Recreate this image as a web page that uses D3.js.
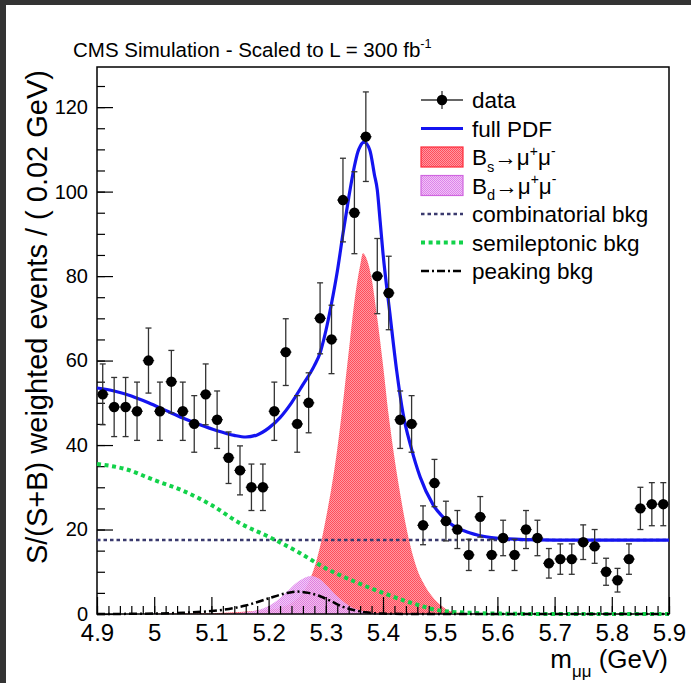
<!DOCTYPE html>
<html>
<head>
<meta charset="utf-8">
<script src="https://cdn.jsdelivr.net/npm/d3@7"></script>
<style>
  html, body { margin: 0; padding: 0; background: #fff; }
  svg { display: block; }
</style>
</head>
<body>
<script>
// ---------------- data ----------------
const massX = [4.91,4.93,4.95,4.97,4.99,5.01,5.03,5.05,5.07,5.09,5.11,5.13,5.15,5.17,5.19,5.21,5.23,5.25,5.27,5.29,
               5.31,5.33,5.35,5.37,5.39,5.41,5.43,5.45,5.47,5.49,5.51,5.53,5.55,5.57,5.59,5.61,5.63,5.65,5.67,5.69,
               5.71,5.73,5.75,5.77,5.79,5.81,5.83,5.85,5.87,5.89];
const counts = [52,49,49,48,60,48,55,48,45,52,46,37,34,30,30,48,62,45,50,70,
                65,98,95,113,80,76,46,45,21,31,22,20,14,23,14,18,14,20,18,12,
                13,13,17,16,10,8,13,25,26,26];
const errors = [7.2,7.0,7.0,6.9,7.7,6.9,7.4,6.9,6.7,7.2,6.8,6.1,5.8,5.5,5.5,6.9,7.9,6.7,7.1,8.4,
                8.1,9.9,9.7,10.6,8.9,8.7,6.8,6.7,4.6,5.6,4.7,4.5,3.7,4.8,3.7,4.2,3.7,4.5,4.2,3.5,
                3.6,3.6,4.1,4.0,3.2,2.8,3.6,5.0,5.1,5.1];
const binHalfWidth = 0.01;

const pdfX = [4.90,4.93,4.96,4.99,5.02,5.05,5.08,5.11,5.14,5.16,5.18,5.20,5.22,5.24,5.26,5.28,5.29,5.30,5.31,5.32,
              5.33,5.34,5.35,5.356,5.36,5.367,5.377,5.385,5.39,5.395,5.40,5.412,5.424,5.435,5.449,5.465,5.487,5.517,5.547,5.575,
              5.605,5.65,5.70,5.90];
const pdfY = [53.5,52.8,51.6,50.0,48.2,46.4,44.8,43.4,42.3,41.9,42.4,44.0,46.5,50.0,54.3,58.8,61.8,67.0,73.5,81.0,
              90.0,98.5,106.0,109.4,110.7,111.7,109.8,104.0,100.4,93.0,85.4,71.2,57.5,47.5,39.5,32.4,26.0,21.5,19.4,18.4,
              17.9,17.6,17.5,17.5];

const bsX = [5.00,5.10,5.12,5.14,5.16,5.18,5.20,5.22,5.24,5.25,5.26,5.27,5.28,5.29,5.30,5.31,5.32,5.33,5.34,5.35,
             5.36,5.365,5.37,5.38,5.39,5.40,5.41,5.42,5.43,5.44,5.45,5.46,5.47,5.48,5.49,5.50,5.51,5.52,5.54,5.56];
const bsY = [0.1,0.2,0.3,0.4,0.6,0.8,1.0,1.5,2.6,3.6,5.0,7.5,11,16,22.5,30,39,50,62,74,
             82.5,85.4,84.5,79.5,70,59,47,37,28.5,21,15,10.5,7.5,5.2,3.5,2.2,1.2,0.6,0.2,0];

const bdX = [5.12,5.14,5.17,5.19,5.21,5.23,5.25,5.265,5.275,5.29,5.30,5.32,5.34,5.36,5.38,5.41];
const bdY = [0,0.2,0.6,1.3,2.7,5.0,7.5,8.7,9.0,8.2,7.0,4.2,2.0,0.8,0.3,0];

const combX = [4.90,5.90];
const combY = [17.5,17.5];

const slX = [4.90,4.95,5.00,5.05,5.10,5.15,5.20,5.25,5.30,5.35,5.40,5.45,5.50,5.55,5.60,5.70,5.90];
const slY = [35.5,34.3,31.7,29.2,25.8,21.5,18.3,14.8,10.8,7.7,5.0,2.6,0.8,0.3,0.1,0,0];

const pkX = [4.90,5.00,5.05,5.10,5.12,5.16,5.20,5.23,5.25,5.27,5.29,5.31,5.33,5.35,5.37,5.40,5.45,5.90];
const pkY = [0,0.1,0.3,0.7,1.0,2.0,3.7,4.9,5.3,5.0,4.2,3.0,1.7,0.9,0.4,0.1,0,0];

const xTickValues = [4.9,5.0,5.1,5.2,5.3,5.4,5.5,5.6,5.7,5.8,5.9];
const xTickLabels = ["4.9","5","5.1","5.2","5.3","5.4","5.5","5.6","5.7","5.8","5.9"];
const yTickValues = [0,20,40,60,80,100,120];
const yTickLabels = ["0","20","40","60","80","100","120"];

const titleText = "CMS Simulation - Scaled to L = 300 fb^{-1}";
const yTitleText = "S/(S+B) weighted events / ( 0.02 GeV)";
const xTitleText = "m_{μμ} (GeV)";
const legendLabels = ["data","full PDF","B_{s}→μ^{+}μ^{-}","B_{d}→μ^{+}μ^{-}","combinatorial bkg","semileptonic bkg","peaking bkg"];

// ---------------- layout ----------------
const W = 691, H = 683;
const L = 97, R = 669, T = 67, B = 614;
const FONT = "'Liberation Sans', Arial, Helvetica, sans-serif";

const svg = d3.select("body").append("svg")
  .attr("width", W).attr("height", H)
  .attr("font-family", FONT);

svg.append("rect").attr("width", W).attr("height", H).attr("fill", "#fff");
// dark screenshot border
svg.append("rect").attr("x",0).attr("y",0).attr("width",W).attr("height",5).attr("fill","#333");
svg.append("rect").attr("x",0).attr("y",0).attr("width",6).attr("height",H).attr("fill","#333");

const x = d3.scaleLinear().domain([4.9, 5.9]).range([L, R]);
const y = d3.scaleLinear().domain([0, 129.5]).range([B, T]);

// patterns
const defs = svg.append("defs");
function checker(id, bg, fg) {
  const p = defs.append("pattern").attr("id", id).attr("patternUnits","userSpaceOnUse")
    .attr("width",2).attr("height",2);
  p.append("rect").attr("width",2).attr("height",2).attr("fill",bg);
  p.append("rect").attr("x",0).attr("y",0).attr("width",1).attr("height",1).attr("fill",fg);
  p.append("rect").attr("x",1).attr("y",1).attr("width",1).attr("height",1).attr("fill",fg);
}
checker("redPat", "#ff98a2", "#ff4c5c");
checker("violetPat", "#f2c2f7", "#dc84ea");

const zip = (xs, ys) => xs.map((v,i)=>[v, ys[i]]);

// fills
const area = d3.area().x(d=>x(d[0])).y0(y(0)).y1(d=>y(d[1])).curve(d3.curveMonotoneX);
svg.append("path").datum(zip(bsX,bsY)).attr("d", area).attr("fill","url(#redPat)");
svg.append("path").datum(zip(bdX,bdY)).attr("d", area).attr("fill","url(#violetPat)").attr("fill-opacity",0.9);

// axes
const gy = svg.append("g").attr("transform",`translate(${L},0)`);
gy.call(d3.axisLeft(y).tickValues(d3.range(0,126,5)).tickSize(-8).tickFormat(""));
gy.append("g").call(d3.axisLeft(y).tickValues(yTickValues).tickSize(-16).tickPadding(9)
   .tickFormat((d,i)=>yTickLabels[i]));
gy.selectAll(".domain").remove();
gy.selectAll("line").attr("stroke","#000").attr("stroke-width",1.2);
gy.selectAll("text").attr("font-size",20).attr("font-family",FONT).attr("fill","#000");

const minorX = d3.range(0,51).map(i=>4.9+i*0.02);
const gx = svg.append("g").attr("transform",`translate(0,${B})`);
gx.call(d3.axisBottom(x).tickValues(minorX).tickSize(-8).tickFormat(""));
gx.append("g").call(d3.axisBottom(x).tickValues(xTickValues).tickSize(-17).tickPadding(10)
   .tickFormat((d,i)=>xTickLabels[i]));
gx.selectAll(".domain").remove();
gx.selectAll("line").attr("stroke","#000").attr("stroke-width",1.2);
gx.selectAll("text").attr("font-size",24).attr("font-family",FONT).attr("fill","#000");

// frame
svg.append("rect").attr("x",L).attr("y",T).attr("width",R-L).attr("height",B-T)
  .attr("fill","none").attr("stroke","#000").attr("stroke-width",1.5);

// curves
const line = d3.line().x(d=>x(d[0])).y(d=>y(d[1])).curve(d3.curveMonotoneX);
svg.append("path").datum(zip(combX,combY)).attr("d",line).attr("fill","none")
  .attr("stroke","#3a3a6e").attr("stroke-width",2.5).attr("stroke-dasharray","3.5,3");
svg.append("path").datum(zip(slX,slY)).attr("d",line).attr("fill","none")
  .attr("stroke","#12d24a").attr("stroke-width",4).attr("stroke-dasharray","4,3.6");
svg.append("path").datum(zip(pkX,pkY)).attr("d",line).attr("fill","none")
  .attr("stroke","#000").attr("stroke-width",2.5).attr("stroke-dasharray","8,3,2,3");
svg.append("path").datum(zip(pdfX,pdfY)).attr("d",line).attr("fill","none")
  .attr("stroke","#1414f0").attr("stroke-width",3.2);

// data
const gd = svg.append("g");
const pts = massX.map((m,i)=>({m, v:counts[i], e:errors[i]}));
const eb = gd.selectAll("g.pt").data(pts).join("g").attr("class","pt");
eb.append("line").attr("x1",d=>x(d.m)).attr("x2",d=>x(d.m))
  .attr("y1",d=>y(d.v-d.e)).attr("y2",d=>y(d.v+d.e)).attr("stroke","#333").attr("stroke-width",1.3);
eb.append("line").attr("x1",d=>x(d.m)-3).attr("x2",d=>x(d.m)+3)
  .attr("y1",d=>y(d.v-d.e)).attr("y2",d=>y(d.v-d.e)).attr("stroke","#333").attr("stroke-width",1.3);
eb.append("line").attr("x1",d=>x(d.m)-3).attr("x2",d=>x(d.m)+3)
  .attr("y1",d=>y(d.v+d.e)).attr("y2",d=>y(d.v+d.e)).attr("stroke","#333").attr("stroke-width",1.3);
eb.append("line").attr("x1",d=>x(d.m-binHalfWidth)).attr("x2",d=>x(d.m+binHalfWidth))
  .attr("y1",d=>y(d.v)).attr("y2",d=>y(d.v)).attr("stroke","#333").attr("stroke-width",1.3);
eb.append("circle").attr("cx",d=>x(d.m)).attr("cy",d=>y(d.v)).attr("r",5.2).attr("fill","#000");

// rich text helper
function rich(sel, str, fs, subShift=0.3, supShift=0.42) {
  const parts = str.split(/(_\{[^}]*\}|\^\{[^}]*\})/).filter(s=>s.length);
  let shift = 0;
  parts.forEach(p=>{
    let target = 0, content = p, size = fs;
    if (p.startsWith("_{")) { target = subShift*fs; content = p.slice(2,-1); size = 0.65*fs; }
    else if (p.startsWith("^{")) { target = -supShift*fs; content = p.slice(2,-1); size = 0.62*fs; }
    sel.append("tspan").attr("dy", target-shift).attr("font-size", size).text(content);
    shift = target;
  });
}

// title
rich(svg.append("text").attr("x",73).attr("y",57).attr("font-size",20.5).attr("fill","#000"), titleText, 20.5);

// y title
svg.append("text").attr("transform","translate(47,70) rotate(-90)").attr("text-anchor","end")
  .attr("font-size",29).attr("fill","#000").text(yTitleText);

// x title
rich(svg.append("text").attr("x",668).attr("y",668).attr("text-anchor","end")
  .attr("font-size",26).attr("fill","#000"), xTitleText, 26, 0.35);

// legend
const legY = [100,128.5,157,185.5,214,242.5,271];
const lx0 = 421, lx1 = 463, ltx = 472;
const lg = svg.append("g");
legendLabels.forEach((lab,i)=>{
  const cy = legY[i];
  if (i===0) {
    lg.append("line").attr("x1",lx0).attr("x2",lx1).attr("y1",cy).attr("y2",cy).attr("stroke","#333").attr("stroke-width",1.3);
    lg.append("line").attr("x1",(lx0+lx1)/2).attr("x2",(lx0+lx1)/2).attr("y1",cy-9).attr("y2",cy+9).attr("stroke","#333").attr("stroke-width",1.3);
    lg.append("circle").attr("cx",(lx0+lx1)/2).attr("cy",cy).attr("r",5.2).attr("fill","#000");
  } else if (i===1) {
    lg.append("line").attr("x1",lx0).attr("x2",lx1).attr("y1",cy).attr("y2",cy).attr("stroke","#1414f0").attr("stroke-width",3.2);
  } else if (i===2) {
    lg.append("rect").attr("x",lx0).attr("y",cy-10).attr("width",lx1-lx0).attr("height",20)
      .attr("fill","url(#redPat)").attr("stroke","#ff2a3a").attr("stroke-width",1.2);
  } else if (i===3) {
    lg.append("rect").attr("x",lx0).attr("y",cy-10).attr("width",lx1-lx0).attr("height",20)
      .attr("fill","url(#violetPat)").attr("stroke","#d066e0").attr("stroke-width",1.2);
  } else if (i===4) {
    lg.append("line").attr("x1",lx0).attr("x2",lx1).attr("y1",cy).attr("y2",cy)
      .attr("stroke","#3a3a6e").attr("stroke-width",2.5).attr("stroke-dasharray","3.5,3");
  } else if (i===5) {
    lg.append("line").attr("x1",lx0).attr("x2",lx1).attr("y1",cy).attr("y2",cy)
      .attr("stroke","#12d24a").attr("stroke-width",4).attr("stroke-dasharray","4,3.6");
  } else {
    lg.append("line").attr("x1",lx0).attr("x2",lx1).attr("y1",cy).attr("y2",cy)
      .attr("stroke","#000").attr("stroke-width",2.5).attr("stroke-dasharray","8,3,2,3");
  }
  rich(lg.append("text").attr("x",ltx).attr("y",cy+8).attr("font-size",22.5).attr("fill","#000"), lab, 22.5);
});
</script>
</body>
</html>
